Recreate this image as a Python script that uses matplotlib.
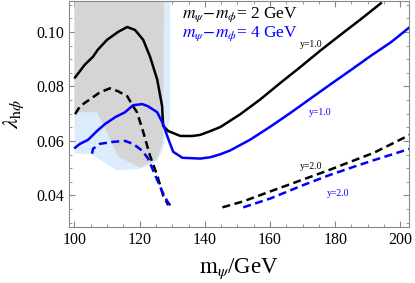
import numpy as np
import matplotlib
matplotlib.use("Agg")
import matplotlib.pyplot as plt
from matplotlib.ticker import MultipleLocator, FormatStrFormatter

plt.rcParams["font.family"] = ["Liberation Serif", "DejaVu Serif"]
plt.rcParams["mathtext.fontset"] = "stix"

# excluded regions (grey, light blue)
grey_x = [100, 127.5, 127.2, 125.4, 120.2, 113.4, 110.9, 106.9, 100]
grey_y = [0.12, 0.12, 0.0596, 0.0535, 0.0502, 0.0542, 0.0607, 0.0705, 0.0705]
blue_x = [100, 129.4, 129.4, 127.8, 127.2, 125.4, 120.2, 113.1, 104.8, 100]
blue_y = [0.12, 0.12, 0.068, 0.0607, 0.0571, 0.0524, 0.0498, 0.0491, 0.0553, 0.0553]

# dm = 2 GeV, y = 1.0 (black solid)
k1_x = [100.2, 103.2, 105.7, 107.2, 110.0, 113.4, 116.2, 118.6, 121.1, 123.2, 125.4,
        126.9, 127.2, 128.8, 132.5, 136.2, 138.6, 141.7, 144.8, 150.9, 157.1, 163.2,
        169.4, 175.5, 181.7, 187.8, 194.0]
k1_y = [0.0833, 0.0880, 0.0909, 0.0935, 0.0971, 0.1000, 0.1018, 0.1007, 0.0971, 0.0909,
        0.0825, 0.0727, 0.0655, 0.0636, 0.0618, 0.0618, 0.0622, 0.0636, 0.0651, 0.0698,
        0.0753, 0.0813, 0.0872, 0.0932, 0.0990, 0.1046, 0.1105]
# dm = 2 GeV, y = 2.0 (black dashed)
k2a_x = [100.2, 101.7, 104.8, 107.8, 110.9, 113.4, 116.2, 118.0, 119.2, 121.1, 123.2,
         125.4, 127.2, 128.8]
k2a_y = [0.0698, 0.0727, 0.0753, 0.0778, 0.0793, 0.0782, 0.0764, 0.0727, 0.0705, 0.0633,
         0.0545, 0.0473, 0.0400, 0.0364]
k2b_x = [145.4, 151.8, 160.2, 169.4, 177.7, 184.8, 191.8, 202.9]
k2b_y = [0.0356, 0.0378, 0.0415, 0.0455, 0.0491, 0.0524, 0.0556, 0.0622]

# dm = 4 GeV, y = 1.0 (blue solid)
b1_x = [100.2, 101.7, 104.2, 106.9, 109.4, 112.5, 115.5, 118.0, 120.8, 122.6, 125.4,
        127.2, 128.8, 130.3, 133.1, 138.6, 141.7, 144.8, 147.8, 154.0, 160.2, 166.3,
        172.5, 178.6, 184.8, 190.9, 197.1, 202.6]
b1_y = [0.0575, 0.0589, 0.0604, 0.0636, 0.0662, 0.0687, 0.0705, 0.0731, 0.0735, 0.0727,
        0.0705, 0.0662, 0.0607, 0.0560, 0.0538, 0.0535, 0.0540, 0.0551, 0.0565, 0.0605,
        0.0653, 0.0703, 0.0756, 0.0808, 0.0860, 0.0912, 0.0962, 0.1015]
# dm = 4 GeV, y = 2.0 (blue dashed)
b2a_x = [105.4, 105.7, 107.8, 111.5, 115.5, 118.0, 120.8, 122.6, 124.8, 126.9, 128.5, 130.0]
b2a_y = [0.0553, 0.0571, 0.0589, 0.0596, 0.0600, 0.0589, 0.0564, 0.0535, 0.0473, 0.0415,
         0.0378, 0.0353]
b2b_x = [151.8, 160.2, 169.4, 177.7, 185.7, 191.8, 202.9]
b2b_y = [0.0356, 0.0389, 0.0434, 0.0472, 0.0505, 0.0529, 0.0571]

fig = plt.figure(figsize=(4.15, 2.83), dpi=100)
ax = fig.add_axes([0.166, 0.198, 0.820, 0.798])

ax.fill(blue_x, blue_y, color="#dcecfb", lw=0, zorder=1)
ax.fill(grey_x, grey_y, color="#d5d5d5", lw=0, zorder=2)

lw = 1.8
dash = (0, (3.2, 1.8))
ax.plot(k1_x, k1_y, color="black", lw=lw, zorder=4)
ax.plot(b1_x, b1_y, color="blue", lw=lw, zorder=4)
ax.plot(k2a_x, k2a_y, color="black", lw=lw, ls=dash, zorder=4)
ax.plot(k2b_x, k2b_y, color="black", lw=lw, ls=dash, zorder=4)
ax.plot(b2a_x, b2a_y, color="blue", lw=lw, ls=dash, zorder=4)
ax.plot(b2b_x, b2b_y, color="blue", lw=lw, ls=dash, zorder=4)

ax.text(172.5, 0.0953, "y=1.0", fontsize=7, color="black", ha="center", va="center")
ax.text(175.5, 0.0705, "y=1.0", fontsize=7, color="blue", ha="center", va="center")
ax.text(172.5, 0.0505, "y=2.0", fontsize=7, color="black", ha="center", va="center")
ax.text(180.8, 0.0407, "y=2.0", fontsize=7, color="blue", ha="center", va="center")

ax.text(0.332, 0.938, r"$m_\psi\!-\!m_\phi$= 2 GeV", transform=ax.transAxes,
        fontsize=12.5, color="black", va="center")
ax.text(0.332, 0.858, r"$m_\psi\!-\!m_\phi$= 4 GeV", transform=ax.transAxes,
        fontsize=12.5, color="blue", va="center")

ax.set_xlim(98.3, 202.7)
ax.set_ylim(0.0284, 0.1113)
ax.xaxis.set_major_locator(MultipleLocator(20))
ax.xaxis.set_minor_locator(MultipleLocator(5))
ax.yaxis.set_major_locator(MultipleLocator(0.02))
ax.yaxis.set_minor_locator(MultipleLocator(0.005))
ax.yaxis.set_major_formatter(FormatStrFormatter("%.2f"))
ax.tick_params(which="both", direction="in", top=True, right=True, color="#888888",
               labelsize=11.5)
ax.tick_params(which="major", length=4)
ax.tick_params(which="minor", length=2.2)
for s in ax.spines.values():
    s.set_color("#888888")

ax.set_xlabel(r"$\mathrm{m}_\psi$/GeV", fontsize=16.5, labelpad=6)
ax.set_ylabel(r"$\lambda_{\mathrm{h}\phi}$", fontsize=16.5, labelpad=7)

fig.savefig("out.png", dpi=100)
